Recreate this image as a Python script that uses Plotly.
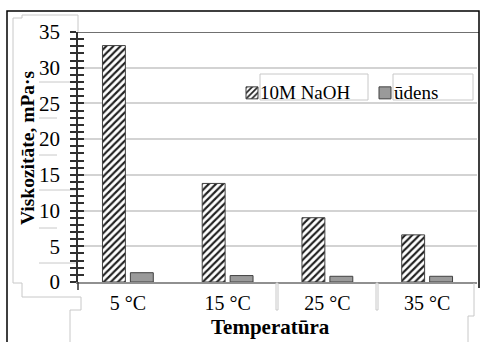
import plotly.graph_objects as go

categories = ["5 °C", "15 °C", "25 °C", "35 °C"]
naoh_values = [33.1, 13.8, 9.0, 6.6]
water_values = [1.3, 0.9, 0.8, 0.8]
series_names = ["10M NaOH", "ūdens"]
y_tick_values = [0, 5, 10, 15, 20, 25, 30, 35]

W, H = 490, 342
L, R, T, B = 78, 13, 32, 60
PW, PH = W - L - R, H - T - B

def px(x):
    return (x - L) / PW

def py(y):
    return (H - B - y) / PH

FONT = "Liberation Serif"

fig = go.Figure()
fig.add_trace(go.Bar(
    x=categories, y=naoh_values, name="", legend="legend",
    hovertemplate=series_names[0] + ": %{y}<extra></extra>",
    marker=dict(color="white", line=dict(color="#404040", width=1),
                pattern=dict(shape="/", fgcolor="#202020", bgcolor="white",
                             size=5, solidity=0.42)),
))
fig.add_trace(go.Bar(
    x=categories, y=water_values, name="", legend="legend2",
    hovertemplate=series_names[1] + ": %{y}<extra></extra>",
    marker=dict(color="#9a9a9a", line=dict(color="#404040", width=1)),
))
# invisible trace to carry the inner half of the crossing ticks
fig.add_trace(go.Scatter(x=categories, y=[None] * 4, yaxis="y2",
                         showlegend=False, hoverinfo="skip"))

legend_common = dict(orientation="h", xanchor="left", yanchor="middle",
                     bgcolor="rgba(0,0,0,0)",
                     font=dict(family=FONT, size=19, color="black"),
                     itemwidth=30)

fig.update_layout(
    template="none",
    width=W, height=H,
    margin=dict(l=L, r=R, t=T, b=B),
    paper_bgcolor="white", plot_bgcolor="white",
    barmode="group", bargap=0.44, bargroupgap=0.18,
    font=dict(family=FONT, color="black", size=19),
    showlegend=True,
    legend=dict(x=px(232), y=py(93), **legend_common),
    legend2=dict(x=px(365), y=py(93), **legend_common),
    xaxis=dict(showline=True, linecolor="#909090", linewidth=1.5,
               ticks="", tickfont=dict(family=FONT, size=20, color="black"),
               ticklabelstandoff=2,
               showgrid=False, fixedrange=True, zeroline=False),
    yaxis=dict(range=[0, 35], tickvals=y_tick_values, showgrid=True,
               gridcolor="#d3d3d3", gridwidth=1.5,
               showline=True, linecolor="#303030", linewidth=1.5,
               ticks="outside", ticklen=6, tickcolor="#303030", tickwidth=1.5,
               minor=dict(dtick=1, ticks="outside", ticklen=6,
                          tickcolor="#303030", tickwidth=1.5, showgrid=False),
               ticklabelstandoff=6,
               tickfont=dict(family=FONT, size=21, color="black"), zeroline=False),
    yaxis2=dict(range=[0, 35], overlaying="y", side="left", anchor="x",
                tickvals=y_tick_values, showgrid=False, showticklabels=False,
                ticks="inside", ticklen=6, tickcolor="#303030", tickwidth=1.5,
                minor=dict(dtick=1, ticks="inside", ticklen=6,
                           tickcolor="#303030", tickwidth=1.5),
                showline=False, zeroline=False),
)

shapes = []
gray = dict(color="#c8c8c8", width=1)
# label boxes (light outlines)
shapes.append(dict(type="rect", xref="paper", yref="paper",
                   x0=px(260), x1=px(368), y0=py(100), y1=py(74),
                   line=gray, fillcolor="rgba(0,0,0,0)", layer="below"))
shapes.append(dict(type="rect", xref="paper", yref="paper",
                   x0=px(393), x1=px(473), y0=py(100), y1=py(74),
                   line=gray, fillcolor="rgba(0,0,0,0)", layer="below"))
# y label area outline
path = (f"M {px(78)},{py(32)} L {px(78)},{py(15)} L {px(22)},{py(15)} L {px(22)},{py(18)} L {px(13)},{py(18)} "
        f"L {px(13)},{py(283)} L {px(22)},{py(283)} L {px(22)},{py(297)} "
        f"L {px(81)},{py(297)} L {px(81)},{py(310)} L {px(70)},{py(310)} L {px(70)},{py(342)}")
shapes.append(dict(type="path", xref="paper", yref="paper", path=path,
                   line=gray, layer="below"))
for yy, x1 in [(82, 78), (118, 57), (155, 57), (190, 78), (228, 57), (263, 78)]:
    shapes.append(dict(type="line", xref="paper", yref="paper", layer="below",
                       x0=px(39), x1=px(x1), y0=py(yy), y1=py(yy), line=gray))
# category separators
for xx in [277, 377]:
    shapes.append(dict(type="rect", xref="paper", yref="paper",
                       x0=px(xx - 1), x1=px(xx + 1), y0=py(310), y1=py(283),
                       line=gray, fillcolor="white"))
# right label outline
shapes.append(dict(type="path", xref="paper", yref="paper",
                   path=f"M {px(474)},{py(283)} L {px(474)},{py(316)} L {px(468)},{py(316)} L {px(468)},{py(342)}",
                   line=gray))
# top dark line at 35
shapes.append(dict(type="line", xref="paper", yref="y", x0=0, x1=px(479),
                   y0=35, y1=35, line=dict(color="#404040", width=1.5)))
# axis extension below zero
shapes.append(dict(type="line", xref="paper", yref="paper", x0=0, x1=0,
                   y0=py(282), y1=py(290), line=dict(color="#303030", width=1.5)))
# outer frame
shapes.append(dict(type="path", xref="paper", yref="paper",
                   path=f"M {px(7)},{py(342)} L {px(7)},{py(11)} L {px(479)},{py(11)} L {px(479)},{py(288)}",
                   line=dict(color="black", width=1.5)))
fig.update_layout(shapes=shapes)

# legend labels
fig.add_annotation(text=series_names[0], xref="paper", yref="paper",
                   x=px(258), y=py(92), showarrow=False, xanchor="left",
                   yanchor="middle", font=dict(family=FONT, size=19, color="black"))
fig.add_annotation(text=series_names[1], xref="paper", yref="paper",
                   x=px(392), y=py(92), showarrow=False, xanchor="left",
                   yanchor="middle", font=dict(family=FONT, size=19, color="black"))

fig.add_annotation(text="<b>Viskozitāte, mPa·s</b>", xref="paper", yref="paper",
                   x=px(27), y=py(148), textangle=-90, showarrow=False,
                   xanchor="center", yanchor="middle",
                   font=dict(family=FONT, size=19.5, color="black"))
fig.add_annotation(text="<b>Temperatūra</b>", xref="paper", yref="paper",
                   x=px(270), y=py(327), showarrow=False,
                   xanchor="center", yanchor="middle",
                   font=dict(family=FONT, size=21, color="black"))

fig.write_html("out.html")
